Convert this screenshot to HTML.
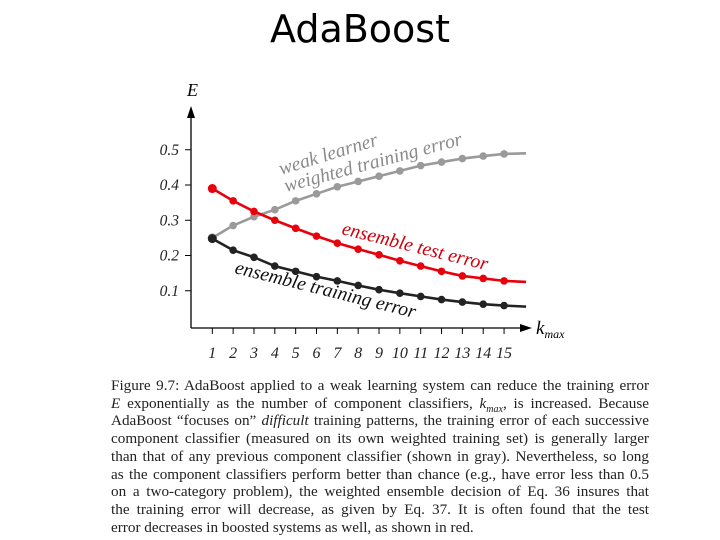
<!DOCTYPE html>
<html><head><meta charset="utf-8"><style>
body{margin:0;width:720px;height:540px;background:#fff;overflow:hidden;position:relative;font-family:"Liberation Serif",serif}
#title{position:absolute;left:0;width:720px;top:7px;text-align:center;font-family:"DejaVu Sans","Liberation Sans",sans-serif;font-size:38px;color:#000}
#caption{position:absolute;left:111px;top:377px;width:538px;font-size:15.2px;line-height:17.7px;color:#222}
#caption div{text-align:justify;text-align-last:justify;white-space:nowrap}
#caption div.last{text-align-last:left}
svg{position:absolute;left:0;top:0}
</style></head><body>
<div id="title">AdaBoost</div>
<svg width="720" height="540">
<g id="axes"></g><g id="series"></g><g id="labels"></g>
</svg>
<div id="caption">
<div>Figure 9.7: AdaBoost applied to a weak learning system can reduce the training error</div>
<div><i>E</i> exponentially as the number of component classifiers, <i>k<sub style="font-size:10px;line-height:0">max</sub></i>, is increased. Because</div>
<div>AdaBoost “focuses on” <i>difficult</i> training patterns, the training error of each successive</div>
<div>component classifier (measured on its own weighted training set) is generally larger</div>
<div>than that of any previous component classifier (shown in gray). Nevertheless, so long</div>
<div>as the component classifiers perform better than chance (e.g., have error less than 0.5</div>
<div>on a two-category problem), the weighted ensemble decision of Eq. 36 insures that</div>
<div>the training error will decrease, as given by Eq. 37. It is often found that the test</div>
<div class="last">error decreases in boosted systems as well, as shown in red.</div>
</div>
<script>
const kmax=[1,2,3,4,5,6,7,8,9,10,11,12,13,14,15];
const yTicks=[0.1,0.2,0.3,0.4,0.5];
const weakErr=[0.25,0.285,0.31,0.33,0.355,0.375,0.395,0.41,0.425,0.44,0.455,0.465,0.475,0.482,0.488];
const testErr=[0.39,0.355,0.325,0.30,0.277,0.255,0.235,0.218,0.202,0.185,0.17,0.155,0.142,0.135,0.128];
const trainErr=[0.248,0.215,0.195,0.17,0.155,0.14,0.128,0.115,0.103,0.093,0.084,0.075,0.068,0.062,0.058];
const tailEnd=[0.49,0.125,0.055];
const NS="http://www.w3.org/2000/svg";
const X=k=>212.3+(k-1)*20.84;
const Y=v=>326-v*352.5;
function mk(t,a,p){const e=document.createElementNS(NS,t);for(const k in a)e.setAttribute(k,a[k]);p.appendChild(e);return e;}
const ax=document.getElementById('axes'),se=document.getElementById('series'),lb=document.getElementById('labels');
let l=mk('line',{x1:191,y1:115,x2:191,y2:328,stroke:'#000','stroke-width':1.3},ax);

l=mk('line',{x1:191,y1:328,x2:522,y2:328,stroke:'#000','stroke-width':1.3},ax);

mk('polygon',{points:'187,118 191,106 195,118',fill:'#000'},ax);
mk('polygon',{points:'520,324 532,328 520,332',fill:'#000'},ax);
let t=mk('text',{x:187,y:96,'font-size':18,'font-style':'italic'},ax);t.textContent='E';

t=mk('text',{x:536,y:334,'font-size':19,'font-style':'italic'},ax);t.innerHTML='k<tspan font-size="12" dy="4">max</tspan>';

yTicks.forEach(v=>{mk('line',{x1:185,x2:191,y1:Y(v),y2:Y(v),stroke:'#000'},ax);
 const e=mk('text',{x:179,y:Y(v)+5,'font-size':15.5,'font-style':'italic','text-anchor':'end',fill:'#222'},ax);e.textContent=v.toFixed(1);
 });
kmax.forEach(k=>{mk('line',{x1:X(k),x2:X(k),y1:328,y2:334,stroke:'#000'},ax);
 const e=mk('text',{x:X(k),y:358,'font-size':16,'font-style':'italic','text-anchor':'middle',fill:'#222'},ax);e.textContent=k;
 });
function series(vals,end,col,name){
 let d='M'+vals.map((v,i)=>X(kmax[i])+','+Y(v)).join(' L')+' L'+(X(kmax[kmax.length-1])+22)+','+Y(end);
 const p=mk('path',{d:d,fill:'none',stroke:col,'stroke-width':2.6,'stroke-linejoin':'round'},se);
 
 vals.forEach((v,i)=>{const c=mk('circle',{cx:X(kmax[i]),cy:Y(v),r:i==0?4.5:3.8,fill:col},se);
  });
}
series(weakErr,tailEnd[0],'#9a9a9a','weak-learner-error');
series(testErr,tailEnd[1],'#e8000b','ensemble-test-error');
series(trainErr,tailEnd[2],'#222','ensemble-training-error');
function lab(txt,x,y,rot,col,name){const e=mk('text',{x:x,y:y,'font-size':19.5,'font-style':'italic',fill:col,transform:`rotate(${rot} ${x} ${y})`},lb);e.textContent=txt;
 }
lab('weak learner',281,175,-17,'#8a8a8a','weak-learner-label');
lab('weighted training error',286,192,-15,'#8a8a8a','weighted-training-error-label');
lab('ensemble test error',341,234,14,'#d0000a','ensemble-test-error-label');
lab('ensemble training error',234,273,14,'#111','ensemble-training-error-label');
</script>
</body></html>
